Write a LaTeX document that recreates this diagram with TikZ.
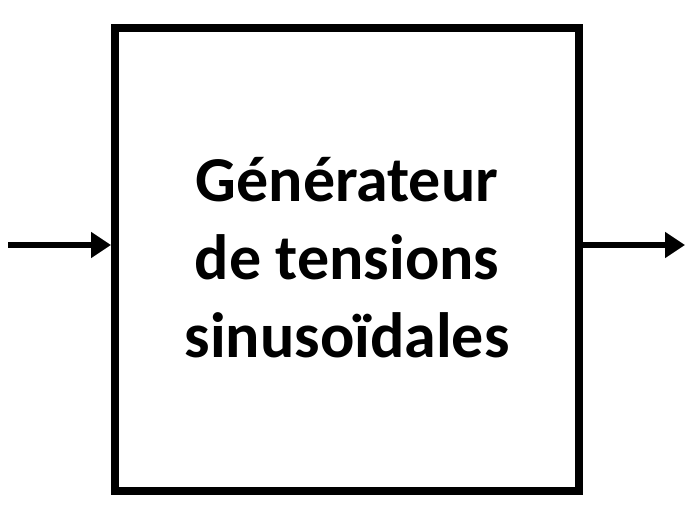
\documentclass[tikz,border=0pt]{standalone}
\usepackage{fontspec}
\setmainfont{Carlito}
\usetikzlibrary{arrows.meta}
\begin{document}
\begin{tikzpicture}[x=1pt,y=-1pt,
  blockbox/.style={draw=black,line width=8pt,minimum width=464pt,minimum height=463.5pt,inner sep=0pt},
  sigarrow/.style={line width=6pt,-{Triangle[length=20pt,width=25pt]}},
  label/.style={font=\fontsize{64}{78}\selectfont\bfseries,align=center,inner sep=0pt}]
\useasboundingbox (0,0) rectangle (689,506);
\node[blockbox] (box) at (347,259.25) {};
\node[label] (txt) at (347,258) {Générateur\\de tensions\\sinusoïdales};
\coordinate (in) at (8,245);
\coordinate (out) at (685,245);
\draw[sigarrow] (in) -- (in -| box.west);
\draw[sigarrow] (out -| box.east) -- (out);
\end{tikzpicture}
\end{document}
